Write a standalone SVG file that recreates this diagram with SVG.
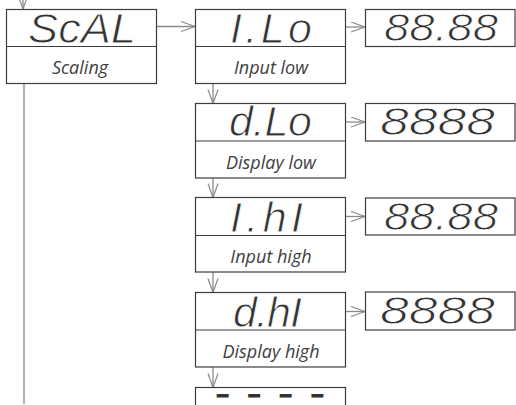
<svg xmlns="http://www.w3.org/2000/svg" width="516" height="405" viewBox="0 0 516 405">
<defs>
<marker id="arr" markerUnits="userSpaceOnUse" markerWidth="16" markerHeight="12" refX="15" refY="5.5" orient="auto">
<path d="M1,0.5 L15,5.5 L1,10.5" fill="none" stroke="#8a8a8a" stroke-width="1.2"/>
</marker>
</defs>
<style>
.box{fill:#fff;stroke:#3c3c3c;stroke-width:1.2}
.div{stroke:#3c3c3c;stroke-width:1.2}
.seg{font-family:"Liberation Sans",Arial,sans-serif;font-style:italic;font-size:43px;fill:#333;stroke:#fff;stroke-width:0.9}
.val{font-family:"Liberation Sans",Arial,sans-serif;font-style:italic;font-size:39px;fill:#333;stroke:#fff;stroke-width:0.9}
.lbl{font-family:"Open Sans","Noto Sans",sans-serif;font-style:italic;font-size:18px;fill:#404040;text-anchor:middle}
.con{fill:none;stroke:#8a8a8a;stroke-width:1.3}
</style>
<rect width="516" height="405" fill="#fff"/>
<g id="connectors">
<line class="con" x1="23" y1="0" x2="23" y2="9" marker-end="url(#arr)"/>
<line class="con" x1="24" y1="84" x2="24" y2="404"/>
<line class="con" x1="156.5" y1="26.5" x2="195" y2="26.5" marker-end="url(#arr)"/>
<line class="con" x1="345.5" y1="27" x2="365" y2="27" marker-end="url(#arr)"/>
<line class="con" x1="345.5" y1="122" x2="365" y2="122" marker-end="url(#arr)"/>
<line class="con" x1="345.5" y1="216.5" x2="365" y2="216.5" marker-end="url(#arr)"/>
<line class="con" x1="345.5" y1="311.5" x2="365" y2="311.5" marker-end="url(#arr)"/>
<line class="con" x1="213" y1="83.5" x2="213" y2="103.5" marker-end="url(#arr)"/>
<line class="con" x1="213" y1="178" x2="213" y2="197.5" marker-end="url(#arr)"/>
<line class="con" x1="213" y1="272" x2="213" y2="292.5" marker-end="url(#arr)"/>
<line class="con" x1="213" y1="367" x2="213" y2="387.5" marker-end="url(#arr)"/>
</g>
<g id="scal">
<rect class="box" x="6.5" y="9.5" width="150" height="74"/>
<line class="div" x1="6.5" y1="46.5" x2="156.5" y2="46.5"/>
<text class="seg" x="28" y="43" textLength="108" lengthAdjust="spacingAndGlyphs">ScAL</text>
<text class="lbl" x="80" y="74">Scaling</text>
</g>
<g id="ilo">
<rect class="box" x="195.5" y="9.5" width="150" height="74"/>
<line class="div" x1="195.5" y1="46.5" x2="345.5" y2="46.5"/>
<text class="seg" x="230" y="43" textLength="82" lengthAdjust="spacing">I.Lo</text>
<text class="lbl" x="271" y="74">Input low</text>
</g>
<g id="ilo-val">
<rect class="box" x="365.5" y="9.5" width="149.5" height="37"/>
<text class="val" x="384" y="41" textLength="114" lengthAdjust="spacingAndGlyphs">88.88</text>
</g>
<g id="dlo">
<rect class="box" x="195.5" y="103.5" width="150" height="74.5"/>
<line class="div" x1="195.5" y1="141" x2="345.5" y2="141"/>
<text class="seg" x="229" y="136" textLength="83" lengthAdjust="spacing">d.Lo</text>
<text class="lbl" x="271" y="168.5">Display low</text>
</g>
<g id="dlo-val">
<rect class="box" x="365.5" y="103.5" width="149.5" height="37.5"/>
<text class="val" x="380" y="135" textLength="115" lengthAdjust="spacingAndGlyphs">8888</text>
</g>
<g id="ihi">
<rect class="box" x="195.5" y="197.5" width="150" height="74.5"/>
<line class="div" x1="195.5" y1="235.5" x2="345.5" y2="235.5"/>
<text class="seg" x="230" y="231.5" textLength="73" lengthAdjust="spacing">I.hI</text>
<text class="lbl" x="271" y="262.5">Input high</text>
</g>
<g id="ihi-val">
<rect class="box" x="365.5" y="198" width="149.5" height="37"/>
<text class="val" x="384" y="230" textLength="114" lengthAdjust="spacingAndGlyphs">88.88</text>
</g>
<g id="dhi">
<rect class="box" x="195.5" y="292.5" width="150" height="74.5"/>
<line class="div" x1="195.5" y1="330" x2="345.5" y2="330"/>
<text class="seg" x="233" y="326.5" textLength="69" lengthAdjust="spacing">d.hI</text>
<text class="lbl" x="271" y="357.5">Display high</text>
</g>
<g id="dhi-val">
<rect class="box" x="365.5" y="292" width="149.5" height="38"/>
<text class="val" x="380" y="324" textLength="115" lengthAdjust="spacingAndGlyphs">8888</text>
</g>
<g id="dashes">
<rect class="box" x="195.5" y="387.5" width="150" height="74"/>
<text transform="translate(216 401) scale(2 1)" x="0" y="0" textLength="54" lengthAdjust="spacing" style="font-family:'Liberation Sans',Arial,sans-serif;font-weight:bold;font-size:20px;fill:#333;stroke:#333;stroke-width:0.9">- - - -</text>
</g>
</svg>
